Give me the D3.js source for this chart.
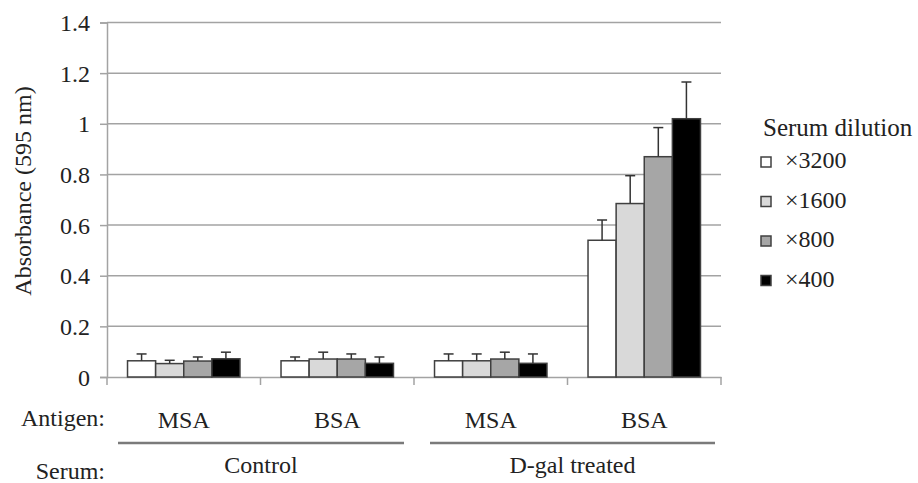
<!DOCTYPE html>
<html><head><meta charset="utf-8">
<script src="https://cdn.jsdelivr.net/npm/d3@7"></script>
<style>body{margin:0;background:#fff}svg{display:block}</style>
</head><body><svg id="c" width="918" height="483"></svg>
<script>
const categories = ["Control MSA", "Control BSA", "D-gal MSA", "D-gal BSA"];
const antigens = ["MSA", "BSA", "MSA", "BSA"];
const serumGroups = ["Control", "D-gal treated"];
const series = ["×3200", "×1600", "×800", "×400"];
const colors = ["#ffffff", "#d9d9d9", "#a6a6a6", "#000000"];
const means3200 = [0.064, 0.064, 0.064, 0.54];
const means1600 = [0.053, 0.071, 0.064, 0.685];
const means800  = [0.063, 0.071, 0.071, 0.87];
const means400  = [0.072, 0.054, 0.054, 1.02];
const err3200 = [0.027, 0.015, 0.027, 0.08];
const err1600 = [0.013, 0.027, 0.027, 0.11];
const err800  = [0.016, 0.02, 0.027, 0.115];
const err400  = [0.026, 0.025, 0.037, 0.145];
const yTicks = [0, 0.2, 0.4, 0.6, 0.8, 1, 1.2, 1.4];

const FONT = "'Liberation Serif', 'Times New Roman', Times, 'DejaVu Serif', serif";
const TXT = "#222";
const means = [means3200, means1600, means800, means400];
const errs = [err3200, err1600, err800, err400];
const data = [];
categories.forEach((c, ci) => series.forEach((s, si) => data.push({c, s, si, v: means[si][ci], e: errs[si][ci]})));

const svg = d3.select("#c").attr("font-family", FONT);
const L = 107, R = 721, T = 22.5, B = 377;
const y = d3.scaleLinear().domain([0, 1.4]).range([B, T]);
const x0 = d3.scaleBand().domain(categories).range([L, R]).padding(0);
const x1 = d3.scaleBand().domain(series).range([0, x0.bandwidth()]).paddingInner(0).paddingOuter(0.73);
const grid = "#a3a3a3";
const txt = (sel) => sel.attr("font-family", FONT).attr("fill", TXT);

// gridlines
svg.append("g").selectAll("line").data(yTicks.filter(d => d > 0)).join("line")
  .attr("x1", L).attr("x2", R).attr("y1", d => y(d)).attr("y2", d => y(d))
  .attr("stroke", grid).attr("stroke-width", 1.5);

// y axis
const ya = svg.append("g").attr("transform", `translate(${L},0)`)
  .call(d3.axisLeft(y).tickValues(yTicks).tickFormat(d3.format("")).tickSize(7).tickPadding(10));
ya.attr("font-family", FONT).attr("font-size", 24);
ya.select(".domain").attr("stroke", grid).attr("stroke-width", 1.5);
ya.selectAll(".tick line").attr("stroke", grid).attr("stroke-width", 1.5);
ya.selectAll(".tick text").call(txt).attr("font-size", 24).attr("dy", "0.34em");

// x axis
const xa = svg.append("g").attr("transform", `translate(0,${B})`)
  .call(d3.axisBottom(x0).tickSize(0).tickFormat(""));
xa.select(".domain").attr("stroke", grid).attr("stroke-width", 1.5);
const bounds = categories.map(c => x0(c)).concat([R]);
svg.append("g").selectAll("line").data(bounds).join("line")
  .attr("x1", d => d).attr("x2", d => d).attr("y1", B).attr("y2", B + 8)
  .attr("stroke", grid).attr("stroke-width", 1.5);

// bars
svg.append("g").selectAll("rect").data(data).join("rect")
  .attr("x", d => x0(d.c) + x1(d.s)).attr("width", x1.bandwidth())
  .attr("y", d => y(d.v)).attr("height", d => B - y(d.v))
  .attr("fill", d => colors[d.si]).attr("stroke", "#404040").attr("stroke-width", 1.5);

// error bars
const eb = svg.append("g").attr("stroke", "#333").attr("stroke-width", 1.5);
const cx = d => x0(d.c) + x1(d.s) + x1.bandwidth() / 2;
eb.selectAll("line.v").data(data).join("line").attr("class", "v")
  .attr("x1", cx).attr("x2", cx)
  .attr("y1", d => y(d.v)).attr("y2", d => y(d.v + d.e));
eb.selectAll("line.c").data(data).join("line").attr("class", "c")
  .attr("x1", d => cx(d) - 5).attr("x2", d => cx(d) + 5)
  .attr("y1", d => y(d.v + d.e)).attr("y2", d => y(d.v + d.e));

// y title
svg.append("text").attr("transform", "translate(31,191) rotate(-90)").attr("text-anchor", "middle")
  .attr("font-size", 24).call(txt).text("Absorbance (595 nm)");

// antigen labels
svg.append("text").attr("x", 105).attr("y", 426).attr("text-anchor", "end").attr("font-size", 24).call(txt).text("Antigen:");
svg.append("g").selectAll("text").data(categories).join("text")
  .attr("x", d => x0(d) + x0.bandwidth() / 2).attr("y", 428).attr("text-anchor", "middle")
  .attr("font-size", 24).call(txt).text((d, i) => antigens[i]);

// serum groups
svg.append("text").attr("x", 105).attr("y", 479).attr("text-anchor", "end").attr("font-size", 24).call(txt).text("Serum:");
const gspan = [[x0(categories[0]) + 11, x0(categories[1]) + x0.bandwidth() - 10], [x0(categories[2]) + 16, x0(categories[3]) + x0.bandwidth() - 6]];
const sg = svg.append("g").selectAll("g").data(serumGroups).join("g");
sg.append("line").attr("x1", (d, i) => gspan[i][0]).attr("x2", (d, i) => gspan[i][1])
  .attr("y1", 443).attr("y2", 443).attr("stroke", "#7a7a7a").attr("stroke-width", 2.5);
sg.append("text").attr("x", (d, i) => (gspan[i][0] + gspan[i][1]) / 2).attr("y", 473).attr("text-anchor", "middle")
  .attr("font-size", 24).call(txt).text(d => d);

// legend
const lg = svg.append("g");
lg.append("text").attr("x", 763).attr("y", 136).attr("font-size", 25).call(txt).text("Serum dilution");
const li = lg.selectAll("g.item").data(series).join("g").attr("class", "item")
  .attr("transform", (d, i) => `translate(0,${168 + i * 39.5})`);
li.append("rect").attr("x", 761).attr("y", -11).attr("width", 10).attr("height", 10)
  .attr("fill", (d, i) => colors[i]).attr("stroke", "#404040").attr("stroke-width", 1.5);
li.append("text").attr("x", 785).attr("y", 0).attr("font-size", 24).call(txt).text(d => d);
</script></body></html>
